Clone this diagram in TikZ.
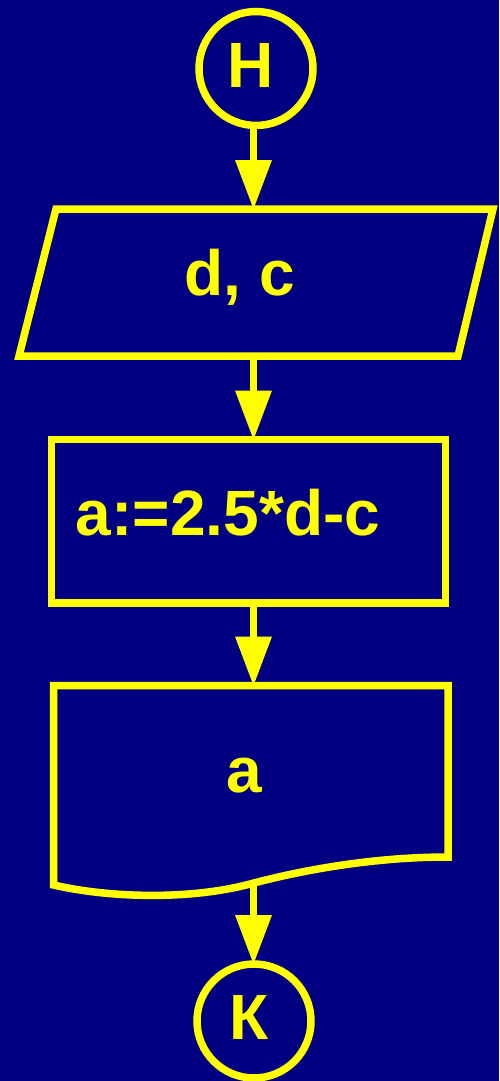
\documentclass[tikz,border=0pt]{standalone}
\usepackage{fontspec}
\setmainfont{Liberation Sans}
\usetikzlibrary{arrows.meta}
\definecolor{navy}{RGB}{0,0,128}
\definecolor{yel}{RGB}{255,255,0}
\begin{document}
\begin{tikzpicture}[x=1pt,y=-1pt,
  shp/.style={draw=yel,line width=7.5pt,line join=miter,inner sep=0pt,outer sep=0pt},
  term/.style={shp,circle,minimum size=114pt},
  proc/.style={shp,rectangle,minimum width=394pt,minimum height=163.5pt},
  txt/.style={text=yel,font=\fontsize{64}{70}\selectfont\bfseries,inner sep=0pt,anchor=base},
  arr/.style={draw=yel,line width=7.5pt,-{Triangle[length=49pt,width=37pt,line width=0pt]}}]
\fill[navy] (0,0) rectangle (499,1081);
\useasboundingbox (0,0) rectangle (499,1081);
\coordinate (ax) at (253.5,0);
% start
\node[term] (H) at (256,68.5) {};
\node[txt] (Ht) at (250.5,88) {Н};
% input (parallelogram)
\coordinate (Ptl) at (56,209);
\coordinate (Ptr) at (493,209);
\coordinate (Pbr) at (458,356);
\coordinate (Pbl) at (19,356);
\draw[shp] (Ptl) -- (Ptr) -- (Pbr) -- (Pbl) -- cycle;
\node[txt] (Pt) at (239.5,295) {d, c};
% process
\node[proc] (R) at (248.5,521.25) {};
\node[txt] (Rt) at (228,535) {a:=2.5*d-c};
% document
\coordinate (Dt) at (250,685.5);
\coordinate (Dbot) at (253.5,883);
\draw[shp] (53.5,685.5) -- (448,685.5) -- (448,857)
  .. controls (380,857) and (310,868) .. (250,884)
  .. controls (190,900) and (110,898) .. (53.5,885) -- cycle;
\node[txt] (Dtx) at (244,792) {a};
% end
\node[term] (K) at (254,1021) {};
\node[txt] (Kt) at (249,1039) {К};
% connectors
\draw[arr] (H.south -| ax) -- (Ptl -| ax);
\draw[arr] (Pbl -| ax) -- (R.north -| ax);
\draw[arr] (R.south -| ax) -- (Dt -| ax);
\draw[arr] (Dbot) -- (K.north -| ax);
\end{tikzpicture}
\end{document}
